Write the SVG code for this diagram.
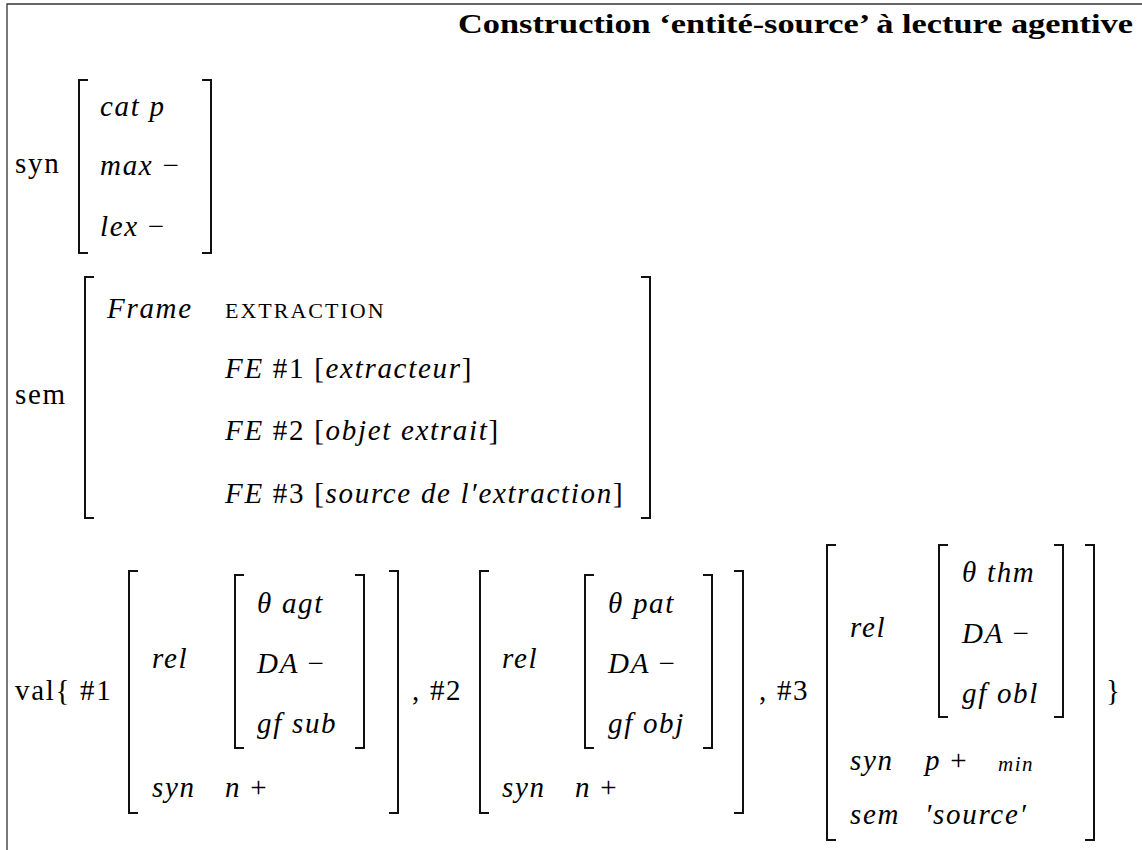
<svg xmlns="http://www.w3.org/2000/svg" width="1142" height="850" viewBox="0 0 1142 850">
<style>
text { font-family: "Liberation Serif", "Times New Roman", serif; fill: #000; }
.t { font-size: 29px; letter-spacing: 1.7px; }
.i { font-style: italic; }
.u { font-style: normal; }
.sc { font-size: 22px; letter-spacing: 2px; font-style: normal; }
.sub { font-size: 21px; letter-spacing: 1.5px; font-style: italic; }
.title { font-size: 28px; font-weight: bold; }
.br { fill: none; stroke: #111; stroke-width: 2; }
.frame { fill: none; stroke: #333; stroke-width: 1.3; }
</style>
<rect width="1142" height="850" fill="#fff"/>
<g id="frame">
  <path class="frame" d="M7,850 V4 H1142"/>
</g>
<g id="title">
  <text class="title" x="1133" y="33" text-anchor="end" textLength="675" lengthAdjust="spacingAndGlyphs">Construction ‘entité-source’ à lecture agentive</text>
</g>
<g id="syn-block">
  <text class="t" x="15" y="173">syn</text>
  <path class="br" d="M88,80 H79 V253 H88"/>
  <path class="br" d="M202,80 H211 V253 H202"/>
  <text class="t i" x="100" y="116">cat p</text>
  <text class="t i" x="100" y="175">max <tspan class="u">−</tspan></text>
  <text class="t i" x="100" y="236">lex <tspan class="u">−</tspan></text>
</g>
<g id="sem-block">
  <text class="t" x="15" y="404">sem</text>
  <path class="br" d="M94,277 H85 V518 H94"/>
  <path class="br" d="M641,277 H650 V518 H641"/>
  <text class="t i" x="107" y="318">Frame</text>
  <text class="sc" x="225" y="318">EXTRACTION</text>
  <text class="t i" x="225" y="378">FE <tspan class="u">#1 [</tspan>extracteur<tspan class="u">]</tspan></text>
  <text class="t i" x="225" y="440">FE <tspan class="u">#2 [</tspan>objet extrait<tspan class="u">]</tspan></text>
  <text class="t i" x="225" y="503">FE <tspan class="u">#3 [</tspan>source de l′extraction<tspan class="u">]</tspan></text>
</g>
<g id="val-label">
  <text class="t" x="15" y="700">val{ #1</text>
</g>
<g id="val-1">
  <path class="br" d="M138,571 H129 V813 H138"/>
  <path class="br" d="M389,571 H398 V813 H389"/>
  <text class="t i" x="152" y="668">rel</text>
  <path class="br" d="M244,575 H235 V748 H244"/>
  <path class="br" d="M355,575 H364 V748 H355"/>
  <text class="t i" x="257" y="613">θ agt</text>
  <text class="t i" x="257" y="673">DA <tspan class="u">−</tspan></text>
  <text class="t i" x="257" y="733">gf sub</text>
  <text class="t i" x="152" y="797">syn</text>
  <text class="t i" x="225" y="797">n <tspan class="u">+</tspan></text>
</g>
<g id="sep-2">
  <text class="t" x="412" y="700">, #2</text>
</g>
<g id="val-2">
  <path class="br" d="M489,571 H480 V813 H489"/>
  <path class="br" d="M734,571 H743 V813 H734"/>
  <text class="t i" x="502" y="668">rel</text>
  <path class="br" d="M594,575 H585 V748 H594"/>
  <path class="br" d="M703,575 H712 V748 H703"/>
  <text class="t i" x="608" y="613">θ pat</text>
  <text class="t i" x="608" y="673">DA <tspan class="u">−</tspan></text>
  <text class="t i" x="608" y="733">gf obj</text>
  <text class="t i" x="502" y="797">syn</text>
  <text class="t i" x="575" y="797">n <tspan class="u">+</tspan></text>
</g>
<g id="sep-3">
  <text class="t" x="759" y="700">, #3</text>
</g>
<g id="val-3">
  <path class="br" d="M836,545 H827 V840 H836"/>
  <path class="br" d="M1085,545 H1094 V840 H1085"/>
  <text class="t i" x="850" y="637">rel</text>
  <path class="br" d="M948,545 H939 V717 H948"/>
  <path class="br" d="M1054,545 H1063 V717 H1054"/>
  <text class="t i" x="962" y="582">θ thm</text>
  <text class="t i" x="962" y="643">DA <tspan class="u">−</tspan></text>
  <text class="t i" x="962" y="703">gf obl</text>
  <text class="t i" x="850" y="770">syn</text>
  <text class="t i" x="925" y="770">p <tspan class="u">+</tspan></text>
  <text class="sub" x="998" y="771">min</text>
  <text class="t i" x="850" y="824">sem</text>
  <text class="t i" x="925" y="824">′source′</text>
</g>
<g id="close-brace">
  <text class="t" x="1106" y="700">}</text>
</g>
<g id="connectors"/>
</svg>
